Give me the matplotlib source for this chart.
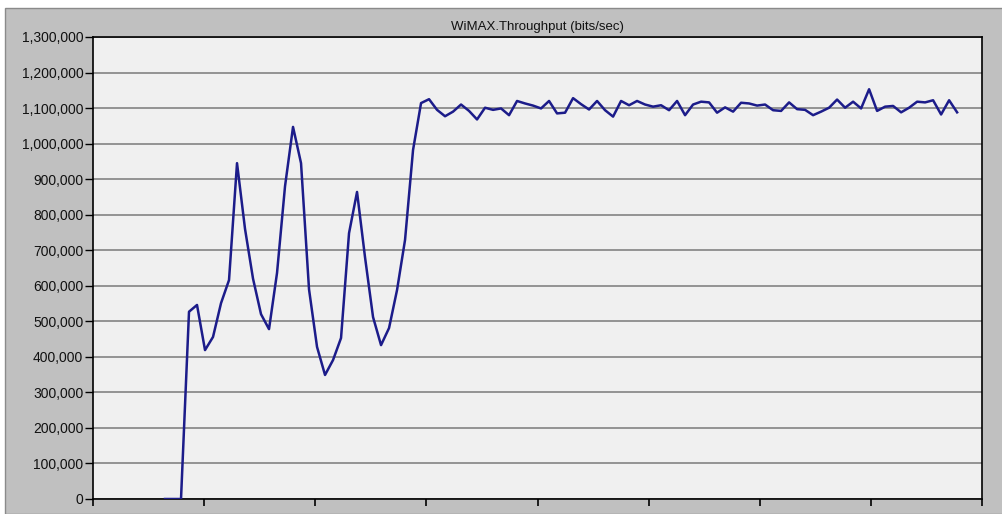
"""
WiMAX throughput trace (OPNET style), redrawn with matplotlib.
"""
import numpy as np
import matplotlib
matplotlib.use("Agg")
import matplotlib.pyplot as plt
from matplotlib.patches import Rectangle
from matplotlib.ticker import FuncFormatter, MultipleLocator

# ── Data ──────────────────────────────────────────────────────────────────────
TITLE = "WiMAX.Throughput (bits/sec)"
t_start = 64.8          # s, first bucket
t_step = 7.2            # s, bucket width
throughput = [
    0, 0, 0, 527e3, 546e3, 419e3, 456e3, 551e3, 616e3, 945e3,
    760e3, 620e3, 520e3, 478e3, 636e3, 880e3, 1047e3, 945e3, 590e3, 428e3,
    349e3, 391e3, 453e3, 748e3, 864e3, 680e3, 512e3, 433e3, 481e3, 588e3,
    729e3, 982e3, 1114e3, 1125e3, 1095e3, 1077e3, 1090e3, 1110e3, 1092e3, 1068e3,
    1101e3, 1095e3, 1099e3, 1080e3, 1120e3, 1113e3, 1107e3, 1099e3, 1120e3, 1085e3,
    1087e3, 1128e3, 1111e3, 1096e3, 1120e3, 1094e3, 1076e3, 1120e3, 1108e3, 1120e3,
    1110e3, 1104e3, 1108e3, 1094e3, 1120e3, 1080e3, 1110e3, 1118e3, 1116e3, 1087e3,
    1102e3, 1090e3, 1115e3, 1113e3, 1107e3, 1110e3, 1094e3, 1092e3, 1116e3, 1097e3,
    1095e3, 1080e3, 1090e3, 1101e3, 1124e3, 1101e3, 1118e3, 1099e3, 1153e3, 1092e3,
    1104e3, 1106e3, 1088e3, 1101e3, 1118e3, 1116e3, 1122e3, 1082e3, 1122e3, 1088e3,
]
times = t_start + t_step * np.arange(len(throughput))
x_max = 800
y_max = 1_300_000

# ── Figure ────────────────────────────────────────────────────────────────────
W, H = 1002, 514
fig = plt.figure(figsize=(W / 100, H / 100), dpi=100, facecolor="white")

# grey window frame behind the plot
fig.patches.append(Rectangle((5 / W, 0), 1, 1 - 8 / H, transform=fig.transFigure,
                             fc="#c0c0c0", ec="#8a8a8a", lw=1.0, zorder=-5))

ax = fig.add_axes([93 / W, 15 / H, 889 / W, 462 / H])
ax.set_facecolor("#f0f0f0")

ax.plot(times, throughput, color="#1c1c8a", lw=1.8, zorder=3)

ax.set_xlim(0, x_max)
ax.set_ylim(0, y_max)
ax.yaxis.set_major_locator(MultipleLocator(100_000))
ax.xaxis.set_major_locator(MultipleLocator(100))
ax.yaxis.set_major_formatter(FuncFormatter(lambda v, _: f"{int(v):,}"))
ax.set_xticklabels([])
ax.grid(axis="y", color="#8c8c8c", lw=1.3)
ax.set_axisbelow(True)

for s in ax.spines.values():
    s.set_color("black")
    s.set_linewidth(1.2)

ax.tick_params(axis="y", direction="out", length=6, width=1, color="black",
               labelsize=10, labelcolor="#111111", pad=1)
ax.tick_params(axis="x", direction="out", length=5, width=1.2, color="black")
for lab in ax.get_yticklabels():
    lab.set_fontfamily("Liberation Sans")

fig.text((93 + 982) / 2 / W, 1 - 27 / H, TITLE, ha="center", va="center",
         fontsize=9.5, family="Liberation Sans", color="#111111")

fig.savefig("out.png", dpi=100, facecolor=fig.get_facecolor())
